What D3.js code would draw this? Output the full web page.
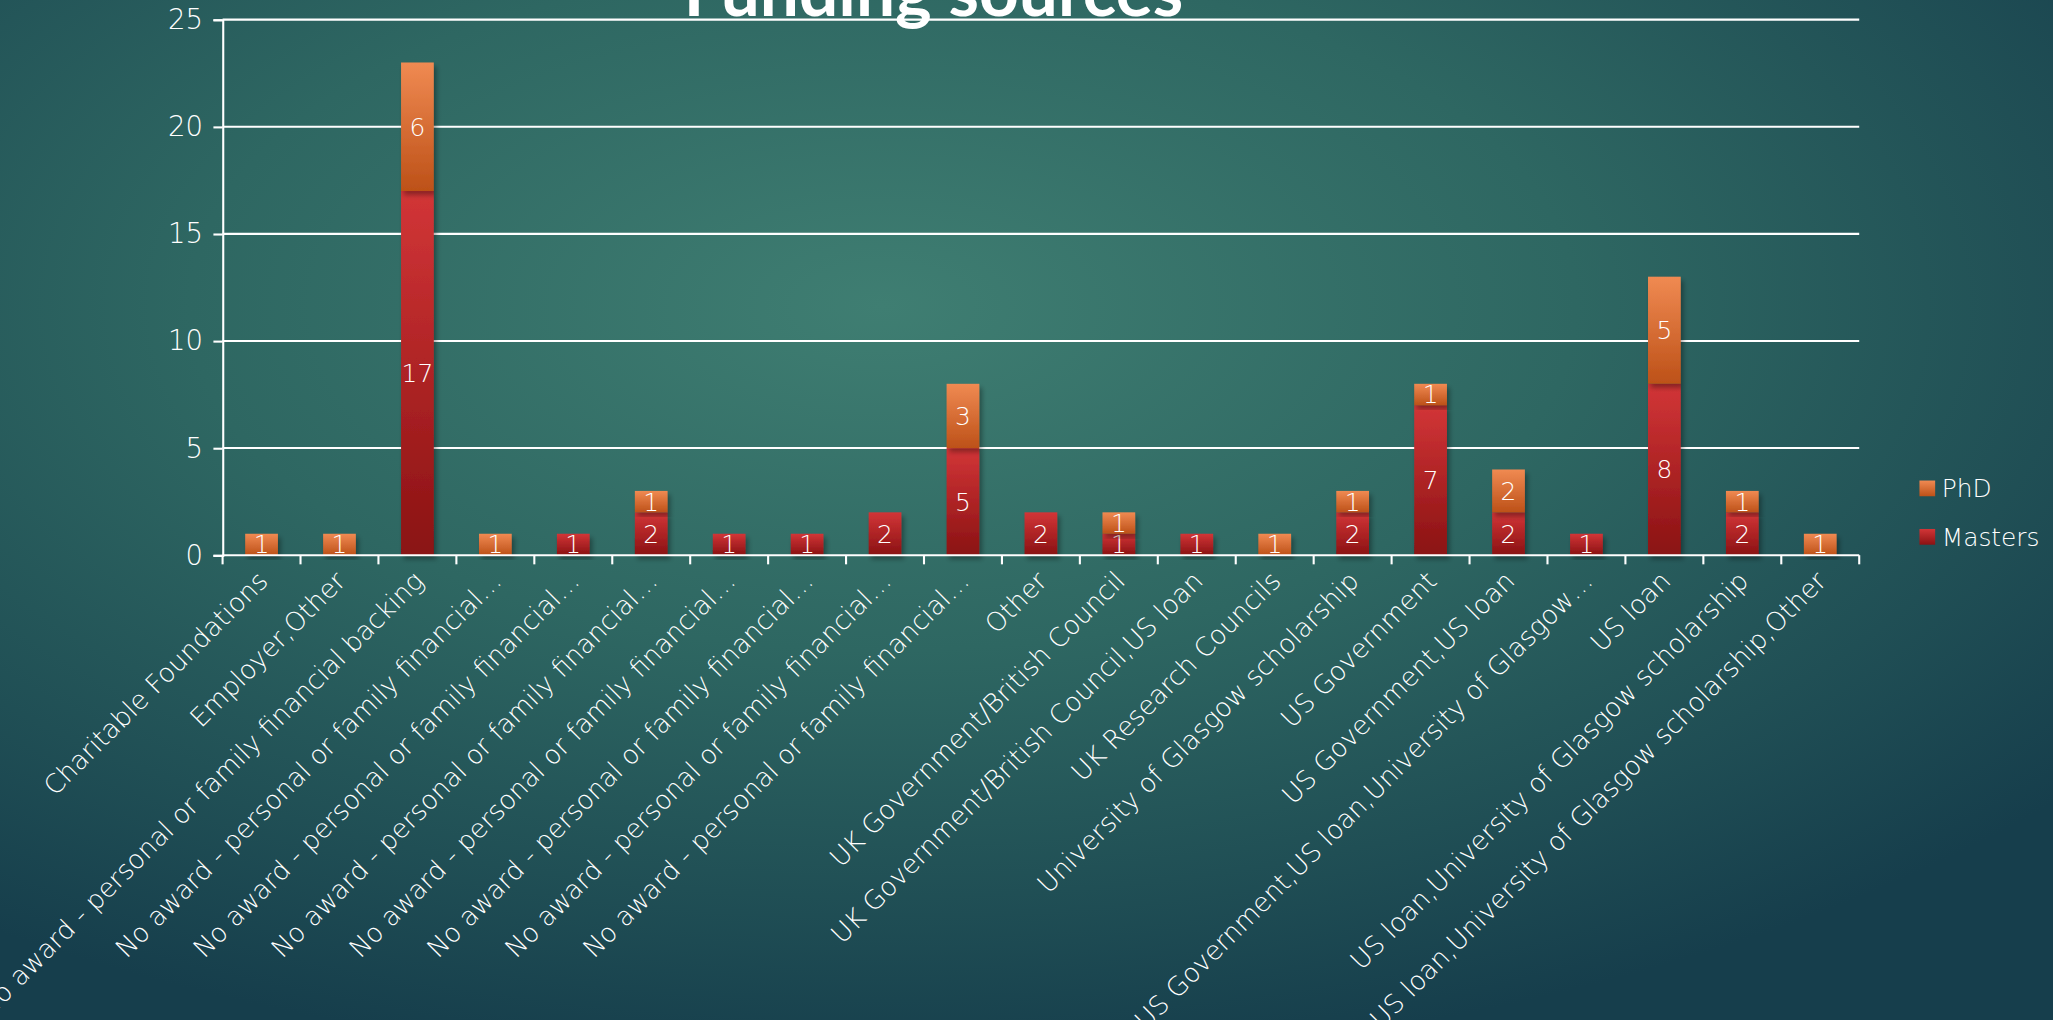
<!DOCTYPE html>
<html>
<head>
<meta charset="utf-8">
<script src="https://unpkg.com/d3@7/dist/d3.min.js"></script>
<style>
  html, body { margin: 0; padding: 0; overflow: hidden; background: #1d4a52; }
  svg { display: block; }
</style>
</head>
<body>
<svg id="chart"></svg>
<script>
const categories = [
  "Charitable Foundations",
  "Employer,Other",
  "No award - personal or family financial backing",
  "No award - personal or family financial…",
  "No award - personal or family financial…",
  "No award - personal or family financial…",
  "No award - personal or family financial…",
  "No award - personal or family financial…",
  "No award - personal or family financial…",
  "No award - personal or family financial…",
  "Other",
  "UK Government/British Council",
  "UK Government/British Council,US loan",
  "UK Research Councils",
  "University of Glasgow scholarship",
  "US Government",
  "US Government,US loan",
  "US Government,US loan,University of Glasgow…",
  "US loan",
  "US loan,University of Glasgow scholarship",
  "US loan,University of Glasgow scholarship,Other"
]
const masters = [0, 0, 17, 0, 1, 2, 1, 1, 2, 5, 2, 1, 1, 0, 2, 7, 2, 1, 8, 2, 0]
const phd =     [1, 1, 6, 1, 0, 1, 0, 0, 0, 3, 0, 1, 0, 1, 1, 1, 2, 0, 5, 1, 1]
const seriesNames = ["Masters", "PhD"]
const yTicks = [0, 5, 10, 15, 20, 25]
const title = "Funding sources"

// drawing is done in a 1568x779 space, stretched to the window
const W = 1568, H = 779
const svg = d3.select('#chart')
    .attr('width', 2053)
    .attr('height', 1020)
    .attr('viewBox', `0 0 ${W} ${H}`)
    .attr('preserveAspectRatio', 'none')

const defs = svg.append('defs')

const bg = defs.append('radialGradient')
    .attr('id', 'bg')
    .attr('cx', '0.43').attr('cy', '0.3').attr('r', '0.75')
bg.append('stop').attr('offset', '0').attr('stop-color', '#3f7e72')
bg.append('stop').attr('offset', '0.45').attr('stop-color', '#2e6762')
bg.append('stop').attr('offset', '1').attr('stop-color', '#163e4c')

const gradPhd = defs.append('linearGradient').attr('id', 'gPhd')
    .attr('x1', 0).attr('y1', 0).attr('x2', 0).attr('y2', 1)
gradPhd.append('stop').attr('offset', '0').attr('stop-color', '#f08a52')
gradPhd.append('stop').attr('offset', '1').attr('stop-color', '#bd5118')

const gradMs = defs.append('linearGradient').attr('id', 'gMs')
    .attr('x1', 0).attr('y1', 0).attr('x2', 0).attr('y2', 1)
gradMs.append('stop').attr('offset', '0').attr('stop-color', '#d23537')
gradMs.append('stop').attr('offset', '1').attr('stop-color', '#8a1213')

const shadow = defs.append('filter').attr('id', 'shadow')
    .attr('x', '-30%').attr('y', '-10%').attr('width', '160%').attr('height', '130%')
shadow.append('feDropShadow')
    .attr('dx', 2).attr('dy', 3).attr('stdDeviation', 2)
    .attr('flood-color', '#000').attr('flood-opacity', 0.35)

svg.append('rect').attr('width', W).attr('height', H).attr('fill', 'url(#bg)')

const margin = { left: 170, right: 148, top: 15, bottom: 355 }
const plotW = W - margin.left - margin.right
const plotH = H - margin.top - margin.bottom

const x = d3.scaleBand()
    .domain(d3.range(categories.length))
    .range([margin.left, margin.left + plotW])
    .paddingInner(0.58).paddingOuter(0.29)

const y = d3.scaleLinear()
    .domain([0, 25])
    .range([margin.top + plotH, margin.top])

const colors = { Masters: 'url(#gMs)', PhD: 'url(#gPhd)' }
const font = '"DejaVu Sans", sans-serif'

// gridlines
svg.append('g')
    .selectAll('line')
    .data(yTicks.slice(1))
    .enter().append('line')
    .attr('x1', margin.left).attr('x2', margin.left + plotW)
    .attr('y1', d => y(d)).attr('y2', d => y(d))
    .attr('stroke', '#ffffff').attr('stroke-width', 1.6)

// y axis
const yAxis = svg.append('g')
    .attr('transform', `translate(${margin.left},0)`)
    .call(d3.axisLeft(y).tickValues(yTicks).tickSize(7).tickPadding(8))
yAxis.selectAll('line, path').attr('stroke', '#ffffff').attr('stroke-width', 1.6)
yAxis.selectAll('text')
    .attr('fill', '#ffffff')
    .style('font-family', font)
    .style('font-size', '21px')
    .style('font-weight', 300)

// stacked bars
const rows = categories.map((c, i) => ({ i: i, Masters: masters[i], PhD: phd[i] }))
const stacked = d3.stack().keys(seriesNames)(rows)

const layers = svg.append('g')
    .selectAll('g')
    .data(stacked)
    .enter().append('g')
    .attr('fill', d => colors[d.key])

layers.selectAll('rect')
    .data(d => d.filter(s => s[1] - s[0] > 0))
    .enter().append('rect')
    .attr('x', d => x(d.data.i))
    .attr('width', x.bandwidth())
    .attr('y', d => y(d[1]))
    .attr('height', d => y(d[0]) - y(d[1]))
    .attr('filter', 'url(#shadow)')

// value labels
layers.selectAll('text')
    .data(d => d.filter(s => s[1] - s[0] > 0))
    .enter().append('text')
    .attr('x', d => x(d.data.i) + x.bandwidth() / 2)
    .attr('y', d => (y(d[0]) + y(d[1])) / 2)
    .attr('dy', '0.36em')
    .attr('text-anchor', 'middle')
    .attr('fill', '#ffffff')
    .style('font-family', font)
    .style('font-size', '19px')
    .style('font-weight', 300)
    .text(d => d[1] - d[0])

// x axis with ticks between categories
const xBounds = d3.range(categories.length + 1).map(i => margin.left + i * plotW / categories.length)
const xAxis = svg.append('g')
xAxis.append('line')
    .attr('x1', margin.left).attr('x2', margin.left + plotW)
    .attr('y1', y(0)).attr('y2', y(0))
    .attr('stroke', '#ffffff').attr('stroke-width', 1.6)
xAxis.selectAll('.tk')
    .data(xBounds)
    .enter().append('line')
    .attr('class', 'tk')
    .attr('x1', d => d).attr('x2', d => d)
    .attr('y1', y(0)).attr('y2', y(0) + 7)
    .attr('stroke', '#ffffff').attr('stroke-width', 1.6)

xAxis.selectAll('text')
    .data(categories)
    .enter().append('text')
    .attr('transform', (d, i) => `translate(${x(i) + x.bandwidth() / 2 - 4},${y(0) + 11}) rotate(-45)`)
    .attr('text-anchor', 'end')
    .attr('dy', '0.7em')
    .attr('fill', '#ffffff')
    .style('font-family', font)
    .style('font-size', '20px')
    .style('font-weight', 300)
    .text(d => d)

// legend
const legend = svg.append('g')
    .selectAll('g')
    .data(["PhD", "Masters"])
    .enter().append('g')
    .attr('transform', (d, i) => `translate(1466,${367 + i * 37})`)
legend.append('rect')
    .attr('width', 12).attr('height', 12)
    .attr('fill', d => colors[d])
legend.append('text')
    .attr('x', 17).attr('y', 6)
    .attr('dy', '0.36em')
    .attr('fill', '#ffffff')
    .style('font-family', font)
    .style('font-size', '19px')
    .style('font-weight', 300)
    .text(d => d)

// title, mostly cut off at the top edge
svg.append('text')
    .attr('x', 713).attr('y', 12)
    .attr('text-anchor', 'middle')
    .attr('fill', '#ffffff')
    .style('font-family', 'Lato, sans-serif')
    .style('font-weight', 700)
    .style('font-size', '53px')
    .text(title)
</script>
</body>
</html>
